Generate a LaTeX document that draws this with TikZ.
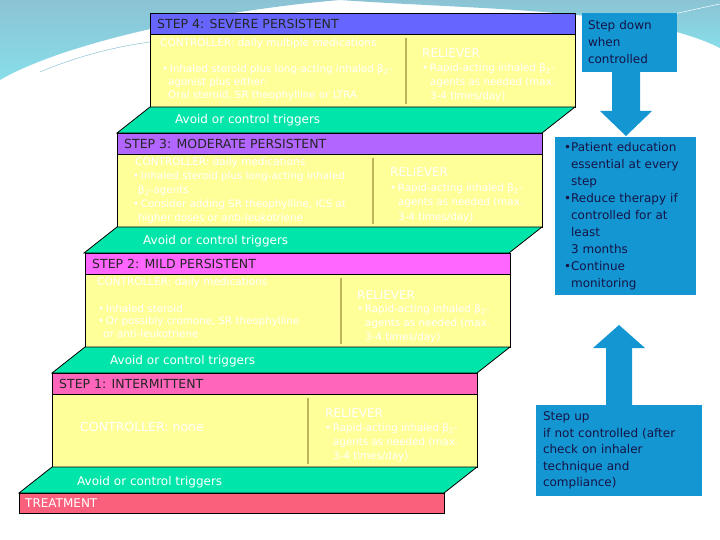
\documentclass[tikz,border=0pt]{standalone}
\usepackage{fontspec}
\setmainfont{DejaVu Sans}
\usetikzlibrary{calc}
\definecolor{sevblue}{RGB}{102,102,255}
\definecolor{modpurple}{RGB}{178,102,255}
\definecolor{mildpink}{RGB}{255,102,255}
\definecolor{intpink}{RGB}{255,102,187}
\definecolor{bodyyellow}{RGB}{255,255,153}
\definecolor{trigreen}{RGB}{0,230,170}
\definecolor{treatred}{RGB}{250,96,124}
\definecolor{olivebar}{RGB}{190,180,90}
\definecolor{boxblue}{RGB}{20,150,210}
\definecolor{navytext}{RGB}{20,20,70}
\definecolor{swooshtop}{RGB}{140,195,212}
\definecolor{swooshlow}{RGB}{135,222,234}
\def\stair(#1,#2)#3{
	\draw[line width=0.8pt, fill=#3] (#1,#2) rectangle ++(425,21);
	\draw[line width=0.8pt, fill=bodyyellow] (#1,#2+21) rectangle ++(425,73);
	\draw[line width=0.8pt, fill=trigreen] (#1,#2+94) -- ++(425,0) -- ++(-33,26) -- ++(-425,0) -- cycle;
	\draw[line width=1.6pt, color=olivebar] (#1+256,#2+25) -- ++(0,66);
}

\begin{document}
\begin{tikzpicture}[x=1pt, y=-1pt,
	headlabel/.style={anchor=west, inner sep=0pt, text=black!85, font=\fontsize{12.5}{15}\selectfont},
	bodytext/.style={anchor=west, inner sep=0pt, text=white, align=left, font=\fontsize{10.3}{13.5}\selectfont},
	bigwhite/.style={anchor=west, inner sep=0pt, text=white, font=\fontsize{12}{14}\selectfont},
	bluebox/.style={fill=boxblue, anchor=north west, outer sep=0pt, inner ysep=0pt, align=left, text=navytext, font=\fontsize{12}{17}\selectfont},
	arrowfill/.style={fill=boxblue}]
			%%%%% START %%%%%
			\useasboundingbox (0,0) rectangle (720,540);
			
			\shade[top color=swooshtop, bottom color=swooshlow] (0,0) -- (0,80) .. controls (60,45) and (200,12) .. (340,0) -- cycle;
			\shade[top color=swooshtop, bottom color=swooshlow] (340,0) .. controls (480,10) and (640,8) .. (720,48) -- (720,0) -- cycle;
			\draw[line width=0.5pt, color=swooshtop] (40,72) .. controls (80,55) and (120,46) .. (150,42);
			\draw[line width=0.5pt, color=white] (600,30) .. controls (650,20) and (690,10) .. (720,4);
			
			\stair(150,13){sevblue}
			\stair(117,133){modpurple}
			\stair(85,253){mildpink}
			\stair(52,373){intpink}
			\draw[line width=0.8pt, fill=treatred] (19,493) rectangle ++(425,20);
			
			% step 4
			\node[headlabel] (head4) at (157,23.5) {STEP 4: SEVERE PERSISTENT};
			\node[bodytext, font=\fontsize{10.5}{13}\selectfont] (ctrl4) at (160,44) {CONTROLLER: daily multiple medications};
			\node[bodytext, font=\fontsize{10.3}{13}\selectfont] (list4) at (162,83) {\textbullet\,Inhaled steroid plus long-acting inhaled β\textsubscript{2}-\\\hspace*{6pt}agonist plus either:\\\hspace*{6pt}Oral steroid, SR theophylline or LTRA};
			\node[bigwhite] (rel4) at (422,53) {RELIEVER};
			\node[bodytext, font=\fontsize{10.3}{14}\selectfont] (rlist4) at (422,83) {\textbullet\,Rapid-acting inhaled β\textsubscript{2}-\\\hspace*{8pt}agents as needed (max.\\\hspace*{8pt}3-4 times/day)};
			\node[bigwhite] (trig4) at (175,120) {Avoid or control triggers};
			
			% step 3
			\node[headlabel] (head3) at (124,143.5) {STEP 3: MODERATE PERSISTENT};
			\node[bodytext, font=\fontsize{10.5}{13}\selectfont] (ctrl3) at (135,163) {CONTROLLER: daily medications};
			\node[bodytext, font=\fontsize{10.3}{14}\selectfont] (list3) at (133,198) {\textbullet\,Inhaled steroid plus long-acting inhaled\\\hspace*{5pt}β\textsubscript{2}-agents\\\textbullet\,Consider adding SR theophylline, ICS at\\\hspace*{5pt}higher doses or anti-leukotriene};
			\node[bigwhite] (rel3) at (390,172) {RELIEVER};
			\node[bodytext, font=\fontsize{10.3}{14.5}\selectfont] (rlist3) at (390,203) {\textbullet\,Rapid-acting inhaled β\textsubscript{2}-\\\hspace*{8pt}agents as needed (max.\\\hspace*{8pt}3-4 times/day)};
			\node[bigwhite] (trig3) at (143,241) {Avoid or control triggers};
			
			% step 2
			\node[headlabel] (head2) at (92,263.5) {STEP 2: MILD PERSISTENT};
			\node[bodytext, font=\fontsize{10.5}{13}\selectfont] (ctrl2) at (97,283) {CONTROLLER: daily medications};
			\node[bodytext, font=\fontsize{10.3}{12.5}\selectfont] (list2) at (98,321) {\textbullet\,Inhaled steroid\\\textbullet\,Or possibly cromone, SR theophylline\\\hspace*{5pt}or anti-leukotriene};
			\node[bigwhite] (rel2) at (357,295) {RELIEVER};
			\node[bodytext, font=\fontsize{10.3}{14}\selectfont] (rlist2) at (357,324) {\textbullet\,Rapid-acting inhaled β\textsubscript{2}-\\\hspace*{8pt}agents as needed (max.\\\hspace*{8pt}3-4 times/day)};
			\node[bigwhite] (trig2) at (110,361) {Avoid or control triggers};
			
			% step 1
			\node[headlabel] (head1) at (59,383.5) {STEP 1: INTERMITTENT};
			\node[bigwhite, font=\fontsize{12.5}{14}\selectfont] (ctrl1) at (80,427) {CONTROLLER: none};
			\node[bigwhite] (rel1) at (325,413) {RELIEVER};
			\node[bodytext, font=\fontsize{10.3}{14}\selectfont] (rlist1) at (325,443) {\textbullet\,Rapid-acting inhaled β\textsubscript{2}-\\\hspace*{8pt}agents as needed (max.\\\hspace*{8pt}3-4 times/day)};
			\node[bigwhite] (trig1) at (77,482) {Avoid or control triggers};
			
			\node[bigwhite] (treat) at (25,503.5) {TREATMENT};
			
			% right hand boxes
			\node[bluebox, minimum width=95pt, minimum height=59pt, text width=83pt, inner xsep=6pt] (stepdown) at (582,13) {Step down\\when\\controlled};
			\node[bluebox, minimum width=141pt, minimum height=158pt, text width=123pt, inner xsep=9pt] (advice) at (555,137) {\begin{tabular}{@{}l@{}l@{}}\textbullet & Patient education\\ & essential at every\\ & step\\\textbullet & Reduce therapy if\\ & controlled for at\\ & least\\ & 3 months\\\textbullet & Continue\\ & monitoring\end{tabular}};
			\node[bluebox, minimum width=166pt, minimum height=91pt, text width=152pt, inner xsep=7pt, font=\fontsize{12}{16.5}\selectfont] (stepup) at (536,405) {Step up\\if not controlled (after\\check on inhaler\\technique and\\compliance)};
			
			\fill[arrowfill] ($(stepdown.south)+(-17.5,0)$) -- ++(0,39) -- ++(-12,0) -- ++(26,25) -- ++(26,-25) -- ++(-12,0) -- ++(0,-39) -- cycle;
			\fill[arrowfill] ($(stepup.north)+(-13,0)$) -- ++(0,-57) -- ++(-13,0) -- ++(26,-23) -- ++(26,23) -- ++(-13,0) -- ++(0,57) -- cycle;
			
			%%%%% END %%%%%
\end{tikzpicture}
\end{document}
